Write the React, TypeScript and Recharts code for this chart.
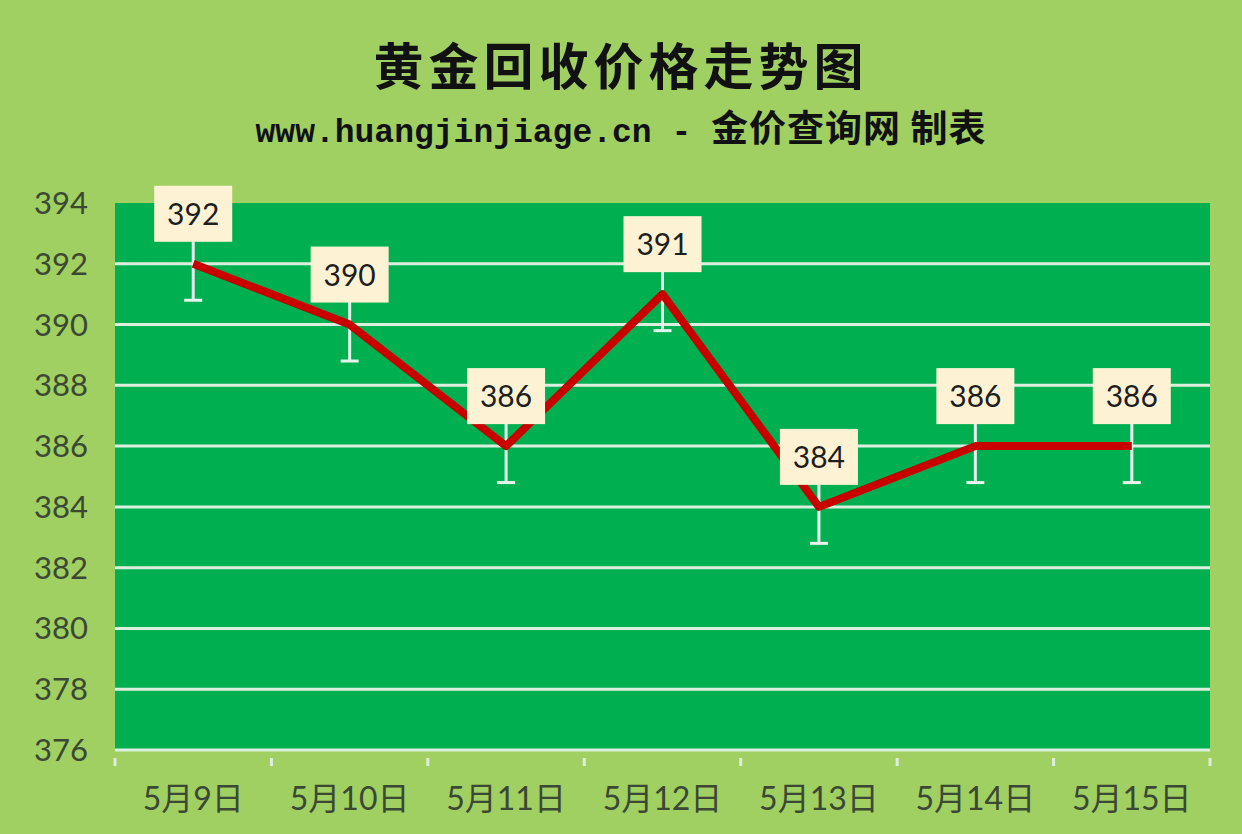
import React from 'react';
import { LineChart, Line, XAxis, YAxis, CartesianGrid, ErrorBar, LabelList } from 'recharts';

// 日期 / 回收价 (元/克)
const dates = ['5月9日', '5月10日', '5月11日', '5月12日', '5月13日', '5月14日', '5月15日'];
const prices = [392, 390, 386, 391, 384, 386, 386];
const errors = [1.2, 1.2, 1.2, 1.2, 1.2, 1.2, 1.2];
const yTicks = [376, 378, 380, 382, 384, 386, 388, 390, 392, 394];
const gridValues = [378, 380, 382, 384, 386, 388, 390, 392];

const data = dates.map((d, i) => ({ date: d, price: prices[i], err: errors[i] }));

const W = 1242;
const H = 834;
const M = { top: 203, right: 32, bottom: 0, left: 0 };
const Y_W = 115;
const X_H = 84;
const PLOT_W = W - M.left - M.right - Y_W;
const HALF_BAND = PLOT_W / dates.length / 2;

const BG = '#a0cf62';
const PLOT = '#00b050';
const GRID = '#dcefdf';
const AXIS_TEXT = '#3b4834';
const FONT = 'Lato, "Noto Sans CJK SC", sans-serif';

const DateTick = (props: any) => {
  const { x, y, payload, index } = props;
  return (
    <g>
      <line x1={x - HALF_BAND} y1={y} x2={x - HALF_BAND} y2={y + 8} stroke={GRID} strokeWidth={3} />
      {index === dates.length - 1 && (
        <line x1={x + HALF_BAND} y1={y} x2={x + HALF_BAND} y2={y + 8} stroke={GRID} strokeWidth={3} />
      )}
      <text x={x} y={y + 52} textAnchor="middle" fill={AXIS_TEXT} fontSize={32} fontFamily={FONT}>
        {payload.value}
      </text>
    </g>
  );
};

const PriceLabel = (props: any) => {
  const { x, y, value } = props;
  const w = 78;
  const h = 56;
  const cy = y - 50;
  return (
    <g>
      <rect x={x - w / 2} y={cy - h / 2} width={w} height={h} fill="#fdf3d4" />
      <text x={x} y={cy + 11} textAnchor="middle" fill="#1e1e1e" fontSize={30} fontFamily={FONT}>
        {value}
      </text>
    </g>
  );
};

export default function App() {
  return (
    <div style={{ position: 'absolute', left: 0, top: 0, width: W, height: H, background: BG, overflow: 'hidden' }}>
      <div
        style={{
          position: 'absolute',
          left: 0,
          width: W,
          top: 28,
          textAlign: 'center',
          fontFamily: '"Noto Sans CJK SC", sans-serif',
          fontWeight: 700,
          fontSize: 50,
          letterSpacing: 5,
          color: '#111',
          lineHeight: '70px',
        }}
      >
        黄金回收价格走势图
      </div>
      <div
        style={{
          position: 'absolute',
          left: 0,
          width: W,
          top: 104,
          textAlign: 'center',
          fontFamily: '"Liberation Mono", monospace',
          fontWeight: 700,
          fontSize: 33,
          color: '#111',
          lineHeight: '44px',
          whiteSpace: 'nowrap',
        }}
      >
        www.huangjinjiage.cn -{' '}
        <span style={{ fontFamily: '"Noto Sans CJK SC", sans-serif', fontSize: 37, letterSpacing: 1 }}>
          金价查询网 制表
        </span>
      </div>
      <div style={{ position: 'absolute', left: 0, top: 0 }}>
        <LineChart width={W} height={H} data={data} margin={M}>
          <CartesianGrid
            fill={PLOT}
            vertical={false}
            horizontalValues={gridValues}
            stroke={GRID}
            strokeWidth={3}
          />
          <XAxis
            dataKey="date"
            height={X_H}
            padding={{ left: HALF_BAND, right: HALF_BAND }}
            axisLine={{ stroke: GRID, strokeWidth: 3 }}
            tickLine={false}
            tick={<DateTick />}
            interval={0}
          />
          <YAxis
            width={Y_W}
            domain={[376, 394]}
            ticks={yTicks}
            axisLine={false}
            tickLine={false}
            tickMargin={21}
            tick={{ fill: AXIS_TEXT, fontSize: 31, fontFamily: FONT }}
          />
          <Line
            dataKey="price"
            stroke="#c80000"
            strokeWidth={8}
            strokeLinejoin="round"
            dot={false}
            activeDot={false}
            isAnimationActive={false}
          >
            <ErrorBar dataKey="err" direction="y" stroke="#e6f4ee" strokeWidth={3} width={9} />
            <LabelList dataKey="price" content={<PriceLabel />} />
          </Line>
        </LineChart>
      </div>
    </div>
  );
}
